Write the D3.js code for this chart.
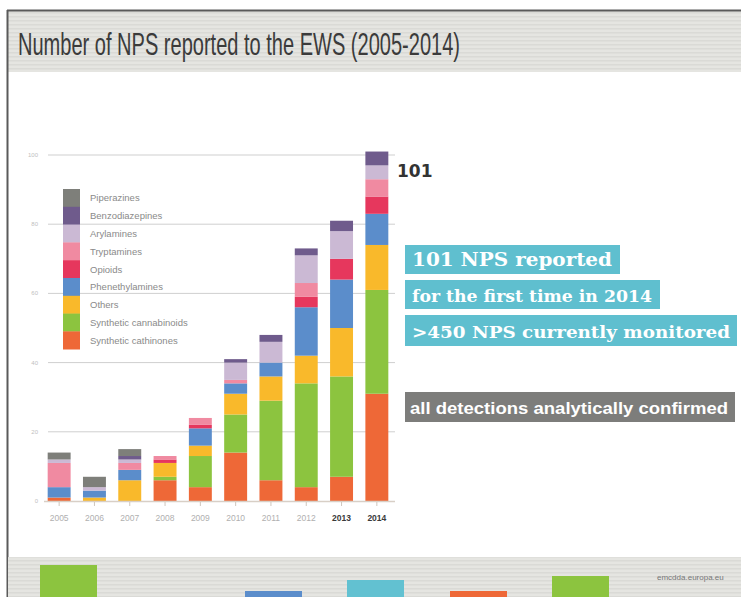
<!DOCTYPE html>
<html>
<head>
<meta charset="utf-8">
<script src="https://cdn.jsdelivr.net/npm/d3@7/dist/d3.min.js"></script>
<style>
  html, body { margin: 0; padding: 0; background: #fff; }
  svg { display: block; }
</style>
</head>
<body>
<svg id="chart" width="741" height="597"></svg>
<script>
// ---------------- DATA ----------------
const years = ["2005","2006","2007","2008","2009","2010","2011","2012","2013","2014"];
const boldYears = ["2013","2014"];
// series listed bottom to top
const seriesNames = ["Synthetic cathinones","Synthetic cannabinoids","Others","Phenethylamines","Opioids","Tryptamines","Arylamines","Benzodiazepines","Piperazines"];
const seriesColors = ["#ee6837","#8cc43f","#f9b92b","#5b8dcb","#e6375d","#f08aa1","#cbb9d4","#6f5b8c","#7e7f7a"];
const cathinones     = [1, 0, 0, 6, 4, 14, 6, 4, 7, 31];
const cannabinoids   = [0, 0, 0, 1, 9, 11, 23, 30, 29, 30];
const others         = [0, 1, 6, 4, 3, 6, 7, 8, 14, 13];
const phenethylamines= [3, 2, 3, 0, 5, 3, 4, 14, 14, 9];
const opioids        = [0, 0, 0, 1, 1, 0, 0, 3, 6, 5];
const tryptamines    = [7, 0, 2, 1, 2, 1, 0, 4, 0, 5];
const arylamines     = [1, 1, 1, 0, 0, 5, 6, 8, 8, 4];
const benzodiazepines= [0, 0, 1, 0, 0, 1, 2, 2, 3, 4];
const piperazines    = [2, 3, 2, 0, 0, 0, 0, 0, 0, 0];
const yTicks = [0, 20, 40, 60, 80, 100];
const totalLabel = "101";
const title = "Number of NPS reported to the EWS (2005-2014)";
const calloutLines = ["101 NPS reported", "for the first time in 2014", ">450 NPS currently monitored"];
const noteText = "all detections analytically confirmed";
const footerText = "emcdda.europa.eu";

const seriesValues = [cathinones, cannabinoids, others, phenethylamines, opioids, tryptamines, arylamines, benzodiazepines, piperazines];

// ---------------- BUILD ----------------
const svg = d3.select("#chart");
const defs = svg.append("defs");
const pat = defs.append("pattern").attr("id","stripes").attr("patternUnits","userSpaceOnUse")
  .attr("width", 8).attr("height", 4);
pat.append("rect").attr("width",8).attr("height",4).attr("fill","#e5e5e1");
pat.append("rect").attr("y",0).attr("width",8).attr("height",1.5).attr("fill","#dadad6");

// frame & title band
svg.append("rect").attr("x",8).attr("y",11).attr("width",733).attr("height",61).attr("fill","url(#stripes)");
svg.append("line").attr("x1",7).attr("x2",741).attr("y1",10.5).attr("y2",10.5).attr("stroke","#5a5a5a").attr("stroke-width",2);
svg.append("line").attr("x1",7.5).attr("x2",7.5).attr("y1",10).attr("y2",597).attr("stroke","#5a5a5a").attr("stroke-width",2);
svg.append("text").attr("x",18).attr("y",55).text(title)
  .attr("font-family","'Liberation Sans Narrow','Arial Narrow','Liberation Sans',Arial,sans-serif")
  .attr("font-size",32).attr("fill","#3b3b3b")
  .attr("textLength",442).attr("lengthAdjust","spacingAndGlyphs");

// footer band
svg.append("rect").attr("x",8).attr("y",557).attr("width",733).attr("height",40).attr("fill","url(#stripes)");
const footerBlocks = [
  {x:40, y:565, c:"#8cc43f"}, {x:245, y:591, c:"#5b8dcb"}, {x:347, y:580, c:"#62c1d1"},
  {x:450, y:591, c:"#ee6837"}, {x:552, y:576, c:"#8cc43f"}
];
svg.selectAll("rect.fb").data(footerBlocks).join("rect").attr("class","fb")
  .attr("x",d=>d.x).attr("y",d=>d.y).attr("width",57).attr("height",d=>597-d.y).attr("fill",d=>d.c);
svg.append("text").attr("x",657).attr("y",580).text(footerText)
  .attr("font-family","'Liberation Sans',Arial,sans-serif").attr("font-size",8).attr("fill","#777");

// scales
const x = d3.scaleBand().domain(years).range([41.5, 394.5]).paddingInner(0.35).paddingOuter(0.175);
const y = d3.scaleLinear().domain([0, 100]).range([501, 155]);

// gridlines
const g = svg.append("g");
g.selectAll("line.grid").data(yTicks.filter(t=>t>0)).join("line").attr("class","grid")
  .attr("x1",48).attr("x2",395).attr("y1",d=>y(d)).attr("y2",d=>y(d))
  .attr("stroke","#cfcfcf").attr("stroke-width",1);
g.selectAll("text.ytick").data(yTicks).join("text").attr("class","ytick")
  .attr("x",38).attr("y",d=>y(d)+2).attr("text-anchor","end")
  .attr("font-family","'Liberation Sans',Arial,sans-serif").attr("font-size",6).attr("fill","#c0c0c0")
  .text(d=>d);

// stacked bars
const table = years.map((yr,i) => {
  const o = {year: yr};
  seriesNames.forEach((s,k) => o[s] = seriesValues[k][i]);
  return o;
});
const stack = d3.stack().keys(seriesNames)(table);
g.selectAll("g.series").data(stack).join("g").attr("class","series")
  .attr("fill",(d,i)=>seriesColors[i])
  .selectAll("rect").data(d=>d).join("rect")
  .attr("x",d=>x(d.data.year)).attr("width",x.bandwidth())
  .attr("y",d=>y(d[1])).attr("height",d=>y(d[0])-y(d[1]));

// baseline & ticks
g.append("line").attr("x1",44).attr("x2",395).attr("y1",y(0)+0.5).attr("y2",y(0)+0.5)
  .attr("stroke","#d8cfc6").attr("stroke-width",1.5);
g.selectAll("line.xt").data(years).join("line").attr("class","xt")
  .attr("x1",d=>x(d)+x.bandwidth()/2).attr("x2",d=>x(d)+x.bandwidth()/2)
  .attr("y1",y(0)+1).attr("y2",y(0)+5).attr("stroke","#cfc6bd");
g.selectAll("text.xl").data(years).join("text").attr("class","xl")
  .attr("x",d=>x(d)+x.bandwidth()/2).attr("y",521).attr("text-anchor","middle")
  .attr("font-family","'Liberation Sans',Arial,sans-serif").attr("font-size",8.5)
  .attr("font-weight",d=>boldYears.includes(d)?"bold":"normal")
  .attr("fill",d=>boldYears.includes(d)?"#3a3a3a":"#b0b0b0")
  .text(d=>d);

// total label
svg.append("text").attr("x",397).attr("y",177).text(totalLabel)
  .attr("font-family","'DejaVu Sans',sans-serif").attr("font-weight","bold").attr("font-size",17).attr("fill","#333");

// legend (top to bottom = reverse order)
const legendItems = seriesNames.map((n,i)=>({name:n, color:seriesColors[i]})).reverse();
const lg = svg.append("g").attr("transform","translate(63,189)");
const rowH = 17.8;
lg.selectAll("rect").data(legendItems).join("rect")
  .attr("x",0).attr("y",(d,i)=>i*rowH).attr("width",17).attr("height",rowH+0.3).attr("fill",d=>d.color);
lg.selectAll("text").data(legendItems).join("text")
  .attr("x",27).attr("y",(d,i)=>i*rowH+rowH/2+3.5)
  .attr("font-family","'Liberation Sans',Arial,sans-serif").attr("font-size",9.5).attr("fill","#8a8a8a")
  .text(d=>d.name);

// callouts
const callouts = [
  {t: calloutLines[0], x:405, y:245, w:215, h:29, tx:412, ty:266, tw:200, fs:19},
  {t: calloutLines[1], x:405, y:280, w:255, h:29, tx:412, ty:302, tw:240, fs:17},
  {t: calloutLines[2], x:405, y:315, w:332, h:31, tx:412, ty:338, tw:318, fs:17}
];
svg.selectAll("rect.co").data(callouts).join("rect").attr("class","co")
  .attr("x",d=>d.x).attr("y",d=>d.y).attr("width",d=>d.w).attr("height",d=>d.h).attr("fill","#5fbfcf");
svg.selectAll("text.co").data(callouts).join("text").attr("class","co")
  .attr("x",d=>d.tx).attr("y",d=>d.ty).text(d=>d.t)
  .attr("font-family","'DejaVu Serif',serif").attr("font-weight","bold").attr("font-size",d=>d.fs)
  .attr("fill","#fff").attr("textLength",d=>d.tw).attr("lengthAdjust","spacingAndGlyphs");

svg.append("rect").attr("x",405).attr("y",392).attr("width",330).attr("height",30).attr("fill","#7d7d7b");
svg.append("text").attr("x",410).attr("y",414).text(noteText)
  .attr("font-family","'Liberation Sans',Arial,sans-serif").attr("font-weight","bold").attr("font-size",17)
  .attr("fill","#fff").attr("textLength",318).attr("lengthAdjust","spacingAndGlyphs");
</script>
</body>
</html>
